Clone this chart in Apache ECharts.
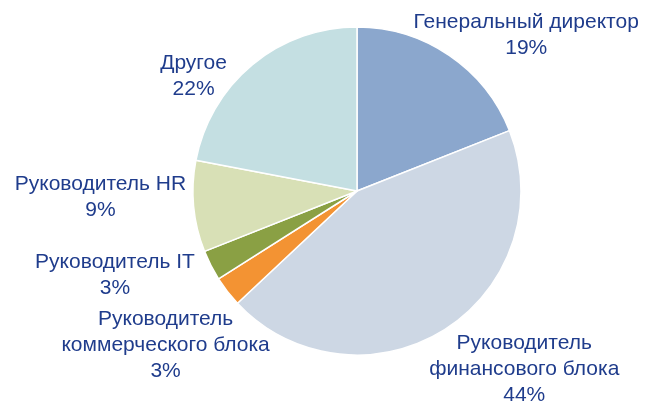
<!DOCTYPE html>
<html><head><meta charset="utf-8">
<script src="https://cdn.jsdelivr.net/npm/echarts@6/dist/echarts.min.js"></script>
<style>html,body{margin:0;padding:0;background:#fff}#c{width:648px;height:401px}</style>
</head><body><div id="c"></div>
<script>
const categories = ['Генеральный директор', 'Руководитель\nфинансового блока', 'Руководитель\nкоммерческого блока', 'Руководитель IT', 'Руководитель HR', 'Другое'];
const values = [19, 44, 3, 3, 9, 22];
const colors = ['#8ba7cd', '#cdd7e4', '#f39333', '#8aa044', '#d8e0b6', '#c4dfe2'];
// label nudges (style only), pixels relative to the computed outside position
const labelNudge = [[7, 11], [22, -3], [30, 22], [-14, -8], [4, -13], [-30, 41]];

const CX = 357, CY = 191, R = 164, GAP = 12;
const total = values.reduce((a, b) => a + b, 0);
function midAngle(i) {
  let s = 0;
  for (let k = 0; k < i; k++) s += values[k];
  return (s + values[i] / 2) / total * 2 * Math.PI;
}
const chart = echarts.init(document.getElementById('c'), null, {renderer: 'canvas'});
chart.setOption({
  animation: false,
  color: colors,
  series: [{
    type: 'pie',
    center: [CX, CY],
    radius: R,
    startAngle: 90,
    clockwise: true,
    avoidLabelOverlap: false,
    data: categories.map((c, i) => ({name: c, value: values[i]})),
    itemStyle: {borderColor: '#fff', borderWidth: 1.5},
    label: {
      show: true,
      position: 'outside',
      overflow: 'none',
      formatter: p => p.name + '\n' + p.value + '%',
      fontFamily: 'Liberation Sans, Arial, sans-serif',
      fontSize: 21,
      lineHeight: 26,
      color: '#1f3c8c',
      align: 'center'
    },
    labelLine: {show: false},
    labelLayout: function (params) {
      const i = params.dataIndex;
      const a = midAngle(i);
      const s = Math.sin(a), c = Math.cos(a);
      const w = params.labelRect.width, h = params.labelRect.height;
      const ax = CX + s * (R + GAP), ay = CY - c * (R + GAP);
      return {
        x: ax + s * w / 2 + labelNudge[i][0],
        y: ay - c * h / 2 + labelNudge[i][1],
        align: 'center',
        verticalAlign: 'middle'
      };
    }
  }]
});
</script></body></html>
